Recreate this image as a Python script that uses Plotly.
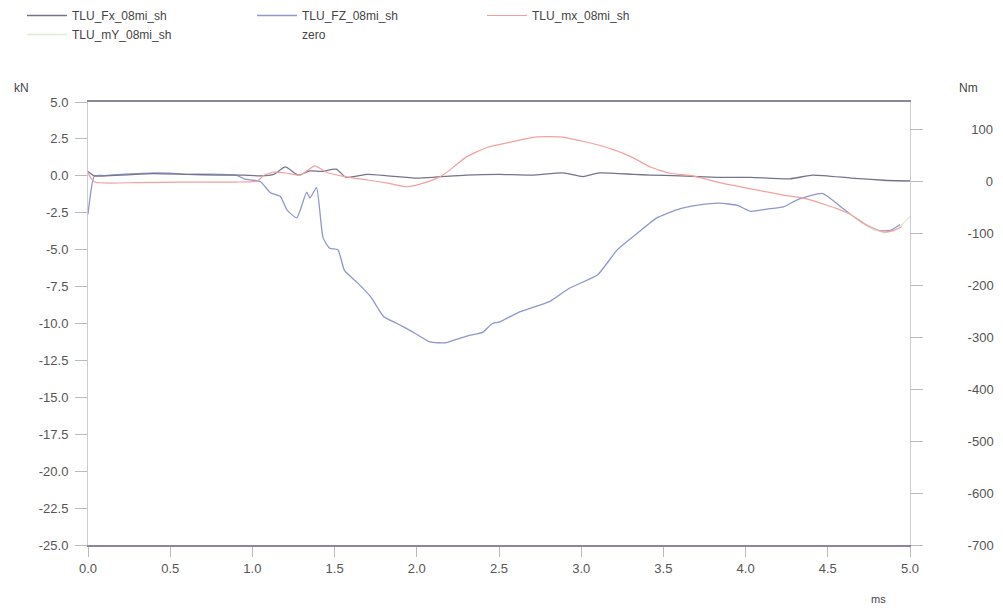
import plotly.graph_objects as go

# ---------------- data ----------------
t_fx = [0.0, 0.04, 0.2, 0.4, 0.6, 0.8, 0.95, 1.05, 1.13, 1.2, 1.28, 1.35, 1.42, 1.51, 1.57,
        1.70, 1.82, 1.94, 2.0, 2.1, 2.3, 2.5, 2.7, 2.89, 3.01, 3.11, 3.32, 3.42, 3.6, 3.83,
        4.03, 4.27, 4.41, 4.64, 4.84, 5.0]
fx = [0.3, 0.0, 0.05, 0.15, 0.1, 0.05, 0.05, 0.0, 0.1, 0.6, 0.05, 0.33, 0.3, 0.45, -0.1,
      0.1, 0.0, -0.1, -0.15, -0.1, 0.05, 0.1, 0.05, 0.2, -0.05, 0.2, 0.1, 0.05, 0.0, -0.1,
      -0.1, -0.2, 0.05, -0.15, -0.3, -0.35]

t_fz = [0.0, 0.04, 0.1, 0.2, 0.3, 0.4, 0.5, 0.6, 0.7, 0.8, 0.9, 0.95, 1.0, 1.05, 1.11,
        1.17, 1.21, 1.27, 1.33, 1.35, 1.39, 1.43, 1.47, 1.52, 1.56, 1.64, 1.72, 1.80, 1.88,
        1.98, 2.08, 2.18, 2.26, 2.32, 2.40, 2.46, 2.5, 2.63, 2.81, 2.93, 3.1, 3.22, 3.34,
        3.46, 3.58, 3.72, 3.84, 3.95, 4.03, 4.13, 4.23, 4.32, 4.47, 4.59, 4.7, 4.8, 4.88, 4.94]
fz = [-2.6, 0.0, 0.02, 0.1, 0.15, 0.2, 0.18, 0.1, 0.12, 0.1, 0.05, -0.2, -0.3, -0.4, -1.15,
      -1.4, -2.3, -2.85, -1.1, -1.5, -0.8, -4.2, -4.9, -5.0, -6.4, -7.25, -8.2, -9.55, -10.0,
      -10.6, -11.25, -11.3, -11.0, -10.8, -10.6, -10.0, -9.9, -9.2, -8.5, -7.6, -6.7, -5.0, -3.9,
      -2.85, -2.3, -1.97, -1.85, -2.0, -2.4, -2.25, -2.1, -1.6, -1.2, -2.2, -3.1, -3.7, -3.7, -3.3]

t_mx = [0.0, 0.04, 0.3, 0.6, 0.9, 1.03, 1.07, 1.13, 1.21, 1.29, 1.38, 1.45, 1.57, 1.70, 1.82,
        1.94, 2.06, 2.14, 2.2, 2.3, 2.43, 2.57, 2.73, 2.87, 3.03, 3.2, 3.32, 3.42, 3.54, 3.68,
        3.83, 4.03, 4.23, 4.35, 4.49, 4.62, 4.74, 4.84, 4.9, 4.95]
mx = [15, -2, -3, -2, -2, 0, 11, 17, 15, 11, 29, 17, 8, 2, -4,
      -11, -2, 8, 21, 46, 65, 75, 85, 85, 75, 60, 44, 27, 15, 10,
      -2, -15, -27, -33, -46, -61, -85, -98, -95, -88]

t_my = [4.55, 4.65, 4.75, 4.84, 4.9, 4.95, 5.0]
my = [-52, -66, -88, -99, -96, -84, -68]

t_zero = [0.0, 5.0]
zero = [0.0, 0.0]

x_ticks = [0.0, 0.5, 1.0, 1.5, 2.0, 2.5, 3.0, 3.5, 4.0, 4.5, 5.0]
x_labels = ["0.0", "0.5", "1.0", "1.5", "2.0", "2.5", "3.0", "3.5", "4.0", "4.5", "5.0"]
y_ticks = [5.0, 2.5, 0.0, -2.5, -5.0, -7.5, -10.0, -12.5, -15.0, -17.5, -20.0, -22.5, -25.0]
y_labels = ["5.0", "2.5", "0.0", "-2.5", "-5.0", "-7.5", "-10.0", "-12.5", "-15.0",
            "-17.5", "-20.0", "-22.5", "-25.0"]
y2_ticks = [100, 0, -100, -200, -300, -400, -500, -600, -700]
y2_labels = ["100", "0", "-100", "-200", "-300", "-400", "-500", "-600", "-700"]

# ---------------- figure ----------------
FONT = "Liberation Sans, Arial, sans-serif"
OFF = 8                      # page body margin of the html page
W, H = 1003 - 2 * OFF, 616 - 2 * OFF
# plot area in page pixels: x 88..910, y 102..545
PL, PR, PT, PB = 88, 910, 102, 545
ML, MT = PL - OFF, PT - OFF
MR, MB = W + OFF - PR, H + OFF - PB
PW, PH = PR - PL, PB - PT


def px2x(px):
    return (px - PL) / PW


def py2y(py):
    return (PB - py) / PH


# right-align right-axis labels with figure / punctuation spaces
def pad(s):
    out = s
    if not s.startswith("-"):
        out = "\u2008" + out
        digits = len(s)
    else:
        digits = len(s) - 1
    return "\u2007" * (3 - digits) + out


fig = go.Figure()

fig.add_trace(go.Scatter(x=t_zero, y=zero, name="zero", mode="lines",
                         line=dict(color="#ffffff", width=1), legendrank=5))
fig.add_trace(go.Scatter(x=t_fz, y=fz, name="TLU_FZ_08mi_sh", mode="lines",
                         line=dict(color="#8e98cc", width=1.3, shape="spline", smoothing=0.5),
                         legendrank=2))
fig.add_trace(go.Scatter(x=t_my, y=my, name="TLU_mY_08mi_sh", mode="lines", yaxis="y2",
                         line=dict(color="#dfeccc", width=1.3, shape="spline", smoothing=0.5),
                         legendrank=4))
fig.add_trace(go.Scatter(x=t_mx, y=mx, name="TLU_mx_08mi_sh", mode="lines", yaxis="y2",
                         line=dict(color="#f2a0a0", width=1.2, shape="spline", smoothing=0.5),
                         legendrank=3))
fig.add_trace(go.Scatter(x=t_fx, y=fx, name="TLU_Fx_08mi_sh", mode="lines",
                         line=dict(color="#74748a", width=1.3, shape="spline", smoothing=0.5),
                         legendrank=1))

tickfont = dict(family=FONT, size=13, color="#555555")
labfont = dict(family=FONT, size=12, color="#444444")

fig.update_layout(
    width=W, height=H,
    margin=dict(l=ML, r=MR, t=MT, b=MB, autoexpand=False),
    paper_bgcolor="white", plot_bgcolor="white",
    showlegend=True,
    legend=dict(orientation="h", x=px2x(22), y=py2y(1), xanchor="left", yanchor="top",
                entrywidth=175, entrywidthmode="pixels", itemwidth=40,
                font=labfont, traceorder="normal", bgcolor="rgba(0,0,0,0)"),
    xaxis=dict(range=[0, 5], tickvals=x_ticks, ticktext=x_labels, ticks="outside",
               ticklen=10, tickcolor="#bbbbbb", showline=True, linecolor="#8c8696",
               linewidth=2, mirror=True, showgrid=False, zeroline=False,
               tickfont=tickfont, automargin=False),
    yaxis=dict(range=[-25, 5], tickvals=y_ticks, ticktext=y_labels, ticks="outside",
               ticklen=12, tickcolor="#bbbbbb", showline=True, linecolor="#cccccc",
               linewidth=1, showgrid=False, zeroline=False, tickfont=tickfont,
               ticklabelstandoff=4, automargin=False),
    yaxis2=dict(range=[-700, 152], overlaying="y", side="right", tickvals=y2_ticks,
                ticktext=[pad(s) for s in y2_labels], ticks="outside", ticklen=12,
                tickcolor="#bbbbbb", showline=True, linecolor="#cccccc", linewidth=1,
                showgrid=False, zeroline=False, tickfont=tickfont, ticklabelstandoff=42,
                automargin=False),
    annotations=[
        dict(text="kN", x=px2x(21), y=py2y(88), xref="paper", yref="paper",
             xanchor="center", yanchor="middle", showarrow=False, font=labfont),
        dict(text="Nm", x=px2x(968), y=py2y(88), xref="paper", yref="paper",
             xanchor="center", yanchor="middle", showarrow=False, font=labfont),
        dict(text="ms", x=px2x(878), y=py2y(599), xref="paper", yref="paper",
             xanchor="center", yanchor="middle", showarrow=False,
             font=dict(family=FONT, size=11, color="#444444")),
    ],
)

fig.write_html("out.html")
